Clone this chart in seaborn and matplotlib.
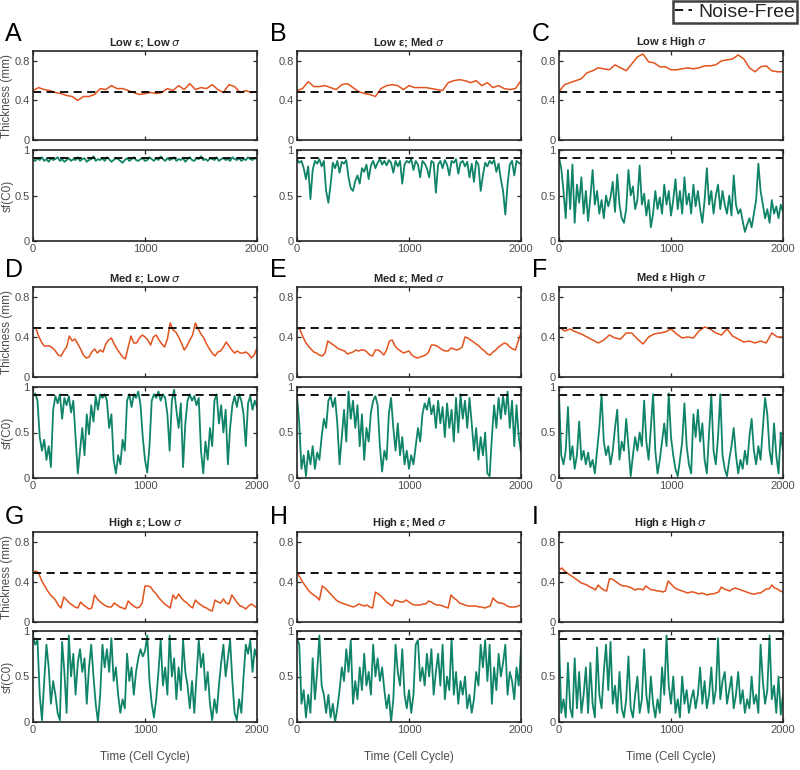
import numpy as np
import pandas as pd
import matplotlib
matplotlib.use("Agg")
import matplotlib.pyplot as plt
from matplotlib.lines import Line2D
import seaborn as sns

# ---------------- data ----------------
panel_letters = ["A", "B", "C", "D", "E", "F", "G", "H", "I"]
panel_titles = [r"Low ε; Low $\sigma$", r"Low ε; Med $\sigma$", r"Low ε High $\sigma$",
                r"Med ε; Low $\sigma$", r"Med ε; Med $\sigma$", r"Med ε High $\sigma$",
                r"High ε; Low $\sigma$", r"High ε; Med $\sigma$", r"High ε High $\sigma$"]
t_max = 2000
noise_free_thickness = 0.49
noise_free_sf = 0.915
thick_yticks = [0, 0.4, 0.8]
sf_yticks = [0, 0.5, 1]
sf_yticklabels = ["0", "0.5", "1"]
x_ticks = [0, 1000, 2000]

thick_A = [0.50, 0.53, 0.51, 0.50, 0.48, 0.47, 0.45, 0.44, 0.40, 0.44, 0.44, 0.46, 0.52, 0.51,
           0.55, 0.52, 0.52, 0.50, 0.48, 0.46, 0.47, 0.48, 0.47, 0.48, 0.52, 0.50, 0.55, 0.51,
           0.57, 0.51, 0.53, 0.52, 0.56, 0.51, 0.48, 0.56, 0.54, 0.48, 0.50, 0.48, 0.49]
thick_B = [0.50, 0.52, 0.59, 0.54, 0.54, 0.55, 0.53, 0.51, 0.56, 0.57, 0.53, 0.49, 0.47, 0.46,
           0.44, 0.52, 0.55, 0.56, 0.55, 0.51, 0.55, 0.53, 0.53, 0.53, 0.52, 0.51, 0.50, 0.58,
           0.60, 0.61, 0.60, 0.58, 0.60, 0.55, 0.58, 0.53, 0.55, 0.52, 0.51, 0.52, 0.60]
thick_C = [0.49, 0.56, 0.58, 0.60, 0.62, 0.68, 0.70, 0.73, 0.72, 0.71, 0.76, 0.73, 0.70, 0.77,
           0.84, 0.87, 0.79, 0.78, 0.74, 0.74, 0.71, 0.71, 0.72, 0.73, 0.72, 0.73, 0.75, 0.75,
           0.76, 0.80, 0.81, 0.82, 0.86, 0.82, 0.73, 0.69, 0.74, 0.75, 0.70, 0.69, 0.69]
thick_D = [0.49, 0.49, 0.41, 0.35, 0.31, 0.31, 0.31, 0.29, 0.26, 0.22, 0.21, 0.26, 0.30, 0.41,
           0.36, 0.38, 0.33, 0.28, 0.22, 0.19, 0.20, 0.25, 0.28, 0.24, 0.27, 0.25, 0.33, 0.37,
           0.39, 0.33, 0.28, 0.24, 0.20, 0.18, 0.30, 0.41, 0.34, 0.34, 0.39, 0.42, 0.40, 0.37,
           0.32, 0.40, 0.42, 0.37, 0.33, 0.30, 0.38, 0.54, 0.47, 0.45, 0.40, 0.34, 0.27, 0.31,
           0.37, 0.42, 0.54, 0.48, 0.43, 0.39, 0.33, 0.28, 0.24, 0.21, 0.25, 0.26, 0.30, 0.35,
           0.31, 0.27, 0.24, 0.26, 0.24, 0.24, 0.25, 0.23, 0.19, 0.22, 0.29]
thick_E = [0.49, 0.48, 0.41, 0.35, 0.31, 0.28, 0.25, 0.24, 0.22, 0.21, 0.24, 0.36, 0.34, 0.32,
           0.30, 0.28, 0.27, 0.26, 0.23, 0.24, 0.25, 0.27, 0.26, 0.27, 0.27, 0.25, 0.22, 0.21,
           0.27, 0.27, 0.25, 0.22, 0.27, 0.36, 0.37, 0.31, 0.28, 0.26, 0.24, 0.25, 0.26, 0.22,
           0.20, 0.19, 0.20, 0.21, 0.22, 0.25, 0.32, 0.32, 0.31, 0.29, 0.27, 0.26, 0.26, 0.29,
           0.28, 0.27, 0.28, 0.30, 0.40, 0.39, 0.37, 0.35, 0.33, 0.31, 0.28, 0.26, 0.23, 0.22,
           0.25, 0.27, 0.30, 0.32, 0.34, 0.33, 0.30, 0.28, 0.27, 0.36, 0.44]
thick_F = [0.50, 0.46, 0.48, 0.45, 0.43, 0.40, 0.37, 0.34, 0.37, 0.42, 0.39, 0.38, 0.44, 0.44,
           0.38, 0.33, 0.40, 0.43, 0.44, 0.45, 0.48, 0.43, 0.39, 0.40, 0.39, 0.46, 0.50, 0.48,
           0.44, 0.42, 0.48, 0.41, 0.38, 0.35, 0.36, 0.34, 0.36, 0.34, 0.44, 0.40, 0.40]
thick_G = [0.49, 0.51, 0.49, 0.42, 0.37, 0.32, 0.28, 0.25, 0.22, 0.17, 0.14, 0.25, 0.22, 0.19,
           0.17, 0.15, 0.14, 0.20, 0.17, 0.15, 0.13, 0.14, 0.27, 0.23, 0.20, 0.18, 0.16, 0.15,
           0.15, 0.19, 0.17, 0.15, 0.14, 0.13, 0.21, 0.18, 0.16, 0.14, 0.15, 0.19, 0.36, 0.36,
           0.35, 0.31, 0.28, 0.24, 0.21, 0.18, 0.16, 0.14, 0.27, 0.23, 0.28, 0.24, 0.21, 0.19,
           0.16, 0.14, 0.22, 0.19, 0.17, 0.15, 0.14, 0.12, 0.11, 0.22, 0.20, 0.19, 0.23, 0.19,
           0.18, 0.27, 0.23, 0.19, 0.16, 0.15, 0.13, 0.16, 0.18, 0.16, 0.14]
thick_H = [0.49, 0.45, 0.40, 0.36, 0.32, 0.29, 0.27, 0.25, 0.22, 0.36, 0.34, 0.31, 0.28, 0.25,
           0.22, 0.20, 0.19, 0.18, 0.17, 0.16, 0.15, 0.16, 0.18, 0.17, 0.16, 0.17, 0.15, 0.14,
           0.30, 0.28, 0.26, 0.23, 0.20, 0.18, 0.16, 0.22, 0.21, 0.20, 0.20, 0.22, 0.20, 0.18,
           0.17, 0.17, 0.17, 0.18, 0.18, 0.21, 0.20, 0.18, 0.17, 0.17, 0.16, 0.15, 0.14, 0.27,
           0.24, 0.22, 0.19, 0.18, 0.17, 0.16, 0.16, 0.16, 0.16, 0.15, 0.15, 0.14, 0.15, 0.16,
           0.24, 0.21, 0.19, 0.19, 0.18, 0.16, 0.15, 0.15, 0.15, 0.16, 0.17]
thick_I = [0.52, 0.54, 0.51, 0.49, 0.47, 0.45, 0.43, 0.41, 0.39, 0.38, 0.37, 0.35, 0.34, 0.32,
           0.37, 0.34, 0.32, 0.31, 0.43, 0.43, 0.41, 0.39, 0.37, 0.36, 0.36, 0.35, 0.34, 0.32,
           0.33, 0.33, 0.32, 0.36, 0.34, 0.32, 0.32, 0.31, 0.31, 0.30, 0.31, 0.41, 0.38, 0.35,
           0.33, 0.32, 0.31, 0.30, 0.29, 0.30, 0.30, 0.29, 0.28, 0.29, 0.28, 0.27, 0.28, 0.28,
           0.29, 0.30, 0.35, 0.33, 0.32, 0.31, 0.33, 0.34, 0.33, 0.32, 0.31, 0.30, 0.29, 0.28,
           0.28, 0.29, 0.29, 0.31, 0.33, 0.33, 0.37, 0.34, 0.33, 0.31, 0.30]

sf_A = [0.90, 0.88, 0.91, 0.89, 0.92, 0.88, 0.90, 0.87, 0.91, 0.89, 0.90, 0.92, 0.88, 0.90,
        0.87, 0.89, 0.91, 0.88, 0.90, 0.89, 0.92, 0.88, 0.90, 0.91, 0.87, 0.89, 0.90, 0.93,
        0.88, 0.90, 0.89, 0.91, 0.88, 0.92, 0.90, 0.87, 0.89, 0.91, 0.90, 0.88, 0.86, 0.89,
        0.91, 0.88, 0.90, 0.92, 0.89, 0.88, 0.90, 0.91, 0.88, 0.89, 0.92, 0.90, 0.88, 0.91,
        0.89, 0.93, 0.90, 0.88, 0.91, 0.89, 0.90, 0.92, 0.88, 0.90, 0.89, 0.91, 0.87, 0.90,
        0.92, 0.89, 0.88, 0.91, 0.90, 0.93, 0.89, 0.90, 0.88, 0.91, 0.90, 0.89, 0.92, 0.88,
        0.90, 0.91, 0.89, 0.90, 0.88, 0.92, 0.90, 0.89, 0.91, 0.88, 0.90, 0.89, 0.92, 0.90,
        0.89, 0.91, 0.90]
sf_B = [0.90, 0.86, 0.88, 0.80, 0.68, 0.82, 0.46, 0.78, 0.88, 0.85, 0.90, 0.82, 0.88, 0.55,
        0.42, 0.62, 0.86, 0.80, 0.88, 0.75, 0.87, 0.85, 0.89, 0.70, 0.58, 0.55, 0.66, 0.72,
        0.63, 0.80, 0.76, 0.84, 0.68, 0.83, 0.88, 0.80, 0.86, 0.90, 0.84, 0.88, 0.83, 0.89,
        0.86, 0.75, 0.88, 0.82, 0.88, 0.63, 0.84, 0.88, 0.86, 0.90, 0.78, 0.88, 0.84, 0.70,
        0.88, 0.85, 0.80, 0.70, 0.88, 0.86, 0.53, 0.84, 0.88, 0.80, 0.89, 0.84, 0.72, 0.88,
        0.86, 0.90, 0.74, 0.86, 0.88, 0.82, 0.87, 0.70, 0.85, 0.65, 0.88, 0.84, 0.55, 0.72,
        0.86, 0.82, 0.88, 0.85, 0.89, 0.76, 0.85, 0.68, 0.55, 0.29, 0.62, 0.84, 0.88, 0.72,
        0.88, 0.86, 0.84]
sf_C = [0.92, 0.80, 0.55, 0.25, 0.78, 0.35, 0.84, 0.20, 0.62, 0.42, 0.70, 0.30, 0.55, 0.22,
        0.48, 0.78, 0.40, 0.55, 0.30, 0.45, 0.25, 0.50, 0.38, 0.48, 0.65, 0.32, 0.73, 0.40,
        0.25, 0.20, 0.35, 0.78, 0.50, 0.60, 0.35, 0.45, 0.83, 0.40, 0.52, 0.28, 0.45, 0.15,
        0.30, 0.55, 0.35, 0.48, 0.30, 0.62, 0.40, 0.55, 0.28, 0.45, 0.68, 0.35, 0.55, 0.30,
        0.70, 0.40, 0.52, 0.30, 0.62, 0.38, 0.55, 0.35, 0.20, 0.45, 0.80, 0.40, 0.55, 0.30,
        0.50, 0.62, 0.35, 0.55, 0.40, 0.30, 0.50, 0.28, 0.72, 0.40, 0.30, 0.35, 0.22, 0.10,
        0.18, 0.25, 0.15, 0.30, 0.45, 0.85, 0.55, 0.40, 0.25, 0.35, 0.20, 0.45, 0.30, 0.38,
        0.25, 0.40, 0.32]
sf_D = [0.90, 0.93, 0.85, 0.45, 0.30, 0.42, 0.20, 0.35, 0.12, 0.75, 0.90, 0.82, 0.92, 0.65,
        0.88, 0.80, 0.90, 0.72, 0.85, 0.45, 0.05, 0.30, 0.55, 0.25, 0.70, 0.48, 0.80, 0.62,
        0.90, 0.75, 0.92, 0.88, 0.92, 0.85, 0.55, 0.70, 0.20, 0.05, 0.25, 0.15, 0.42, 0.30,
        0.85, 0.92, 0.78, 0.92, 0.88, 0.95, 0.80, 0.45, 0.20, 0.06, 0.35, 0.85, 0.92, 0.88,
        0.95, 0.85, 0.92, 0.88, 0.70, 0.30, 0.85, 0.97, 0.75, 0.55, 0.82, 0.12, 0.60, 0.85,
        0.92, 0.85, 0.90, 0.80, 0.88, 0.30, 0.05, 0.40, 0.20, 0.55, 0.35, 0.85, 0.92, 0.60,
        0.80, 0.50, 0.75, 0.15, 0.55, 0.80, 0.90, 0.78, 0.92, 0.85, 0.70, 0.35, 0.82, 0.90,
        0.75, 0.85, 0.78]
sf_E = [0.90, 0.60, 0.10, 0.25, 0.02, 0.30, 0.15, 0.35, 0.10, 0.28, 0.20, 0.45, 0.65, 0.55,
        0.85, 0.90, 0.78, 0.88, 0.60, 0.15, 0.45, 0.75, 0.40, 0.95, 0.65, 0.85, 0.55, 0.80,
        0.35, 0.70, 0.20, 0.55, 0.40, 0.72, 0.85, 0.90, 0.80, 0.35, 0.07, 0.30, 0.20, 0.70,
        0.88, 0.55, 0.30, 0.60, 0.25, 0.45, 0.15, 0.30, 0.10, 0.25, 0.15, 0.35, 0.55, 0.40,
        0.70, 0.82, 0.75, 0.88, 0.70, 0.80, 0.55, 0.85, 0.60, 0.78, 0.45, 0.82, 0.55, 0.75,
        0.40, 0.88, 0.50, 0.92, 0.65, 0.85, 0.55, 0.88, 0.60, 0.30, 0.55, 0.20, 0.45, 0.25,
        0.50, 0.05, 0.02, 0.45, 0.80, 0.55, 0.88, 0.65, 0.90, 0.70, 0.95, 0.55, 0.85, 0.35,
        0.80, 0.45, 0.28]
sf_F = [0.92, 0.25, 0.15, 0.30, 0.78, 0.20, 0.35, 0.10, 0.25, 0.62, 0.20, 0.30, 0.15, 0.28,
        0.12, 0.20, 0.05, 0.30, 0.55, 0.92, 0.40, 0.25, 0.35, 0.15, 0.30, 0.55, 0.75, 0.20,
        0.40, 0.30, 0.65, 0.35, 0.02, 0.25, 0.45, 0.30, 0.50, 0.35, 0.85, 0.40, 0.20, 0.55,
        0.92, 0.30, 0.05, 0.20, 0.40, 0.60, 0.35, 0.93, 0.45, 0.25, 0.10, 0.02, 0.20, 0.40,
        0.82, 0.35, 0.15, 0.05, 0.70, 0.45, 0.75, 0.40, 0.60, 0.20, 0.05, 0.50, 0.92, 0.30,
        0.15, 0.45, 0.92, 0.25, 0.10, 0.02, 0.20, 0.35, 0.55, 0.25, 0.05, 0.20, 0.10, 0.30,
        0.15, 0.45, 0.65, 0.30, 0.15, 0.35, 0.20, 0.55, 0.88, 0.70, 0.30, 0.15, 0.60, 0.25,
        0.05, 0.50, 0.30]
sf_G = [0.95, 0.85, 0.90, 0.30, 0.02, 0.45, 0.85, 0.60, 0.20, 0.45, 0.30, 0.10, 0.02, 0.88,
        0.55, 0.10, 0.95, 0.50, 0.75, 0.30, 0.65, 0.80, 0.55, 0.70, 0.20, 0.60, 0.85, 0.50,
        0.20, 0.00, 0.30, 0.85, 0.60, 0.80, 0.55, 0.92, 0.45, 0.60, 0.30, 0.10, 0.25, 0.15,
        0.75, 0.45, 0.60, 0.30, 0.55, 0.70, 0.80, 0.72, 0.78, 0.95, 0.45, 0.20, 0.05, 0.25,
        0.55, 0.90, 0.40, 0.60, 0.30, 0.95, 0.50, 0.70, 0.25, 0.60, 0.35, 0.90, 0.55, 0.40,
        0.15, 0.45, 0.10, 0.50, 0.90, 0.60, 0.75, 0.35, 0.55, 0.20, 0.02, 0.25, 0.10, 0.40,
        0.65, 0.85, 0.50, 0.70, 0.90, 0.45, 0.10, 0.02, 0.25, 0.10, 0.50, 0.85, 0.75, 0.90,
        0.55, 0.80, 0.70]
sf_H = [0.92, 0.85, 0.20, 0.35, 0.05, 0.30, 0.10, 0.70, 0.25, 0.55, 0.95, 0.40, 0.30, 0.10,
        0.30, 0.05, 0.20, 0.00, 0.15, 0.35, 0.60, 0.45, 0.80, 0.55, 0.90, 0.20, 0.45, 0.25,
        0.60, 0.35, 0.75, 0.40, 0.55, 0.30, 0.85, 0.50, 0.70, 0.45, 0.60, 0.35, 0.15, 0.30,
        0.00, 0.25, 0.85, 0.55, 0.40, 0.80, 0.30, 0.15, 0.35, 0.10, 0.30, 0.85, 0.90, 0.45,
        0.60, 0.40, 0.75, 0.50, 0.80, 0.30, 0.55, 0.75, 0.40, 0.85, 0.25, 0.50, 0.35, 0.92,
        0.30, 0.55, 0.20, 0.45, 0.30, 0.50, 0.15, 0.30, 0.10, 0.25, 0.55, 0.40, 0.85, 0.60,
        0.90, 0.45, 0.85, 0.20, 0.60, 0.35, 0.75, 0.50, 0.65, 0.85, 0.30, 0.55, 0.45, 0.25,
        0.60, 0.40, 0.80]
sf_I = [0.92, 0.10, 0.25, 0.05, 0.65, 0.15, 0.05, 0.70, 0.15, 0.55, 0.10, 0.30, 0.60, 0.10,
        0.65, 0.20, 0.05, 0.82, 0.30, 0.15, 0.55, 0.85, 0.35, 0.88, 0.20, 0.40, 0.10, 0.55,
        0.15, 0.05, 0.25, 0.72, 0.15, 0.05, 0.30, 0.50, 0.10, 0.25, 0.80, 0.30, 0.10, 0.50,
        0.20, 0.05, 0.25, 0.10, 0.60, 0.30, 0.95, 0.40, 0.20, 0.50, 0.10, 0.25, 0.05, 0.50,
        0.20, 0.35, 0.10, 0.25, 0.35, 0.15, 0.30, 0.60, 0.20, 0.45, 0.15, 0.30, 0.60, 0.20,
        0.35, 0.92, 0.25, 0.45, 0.55, 0.20, 0.35, 0.50, 0.15, 0.30, 0.55, 0.20, 0.35, 0.10,
        0.25, 0.15, 0.50, 0.20, 0.30, 0.10, 0.85, 0.45, 0.20, 0.35, 0.95, 0.25, 0.40, 0.10,
        0.50, 0.08, 0.30]

thickness_series = [thick_A, thick_B, thick_C, thick_D, thick_E, thick_F, thick_G, thick_H, thick_I]
sf_series = [sf_A, sf_B, sf_C, sf_D, sf_E, sf_F, sf_G, sf_H, sf_I]

# ---------------- style ----------------
sns.set_theme(style="ticks")
plt.rcParams["font.family"] = ["Liberation Sans", "DejaVu Sans"]
plt.rcParams["mathtext.fontset"] = "dejavusans"

ORANGE = "#E2531D"
GREEN = "#108468"
SPINE = "#262626"
TICKC = "#4D4D4D"

W, H = 800, 770
fig = plt.figure(figsize=(W / 100, H / 100), dpi=100)

col_left = [33, 297, 559]
col_width = 224
rows_px = [((51, 140), (150, 241)), ((287, 377), (387, 478)), ((532, 622), (631, 722))]
letter_x = [5, 270, 532]
letter_y = [34, 270, 517]


def px_axes(left, top, width, bottom):
    return fig.add_axes([left / W, 1 - bottom / H, width / W, (bottom - top) / H])


def style_axes(ax):
    for s in ax.spines.values():
        s.set_color(SPINE)
        s.set_linewidth(1.2)
    ax.tick_params(direction="in", length=3, width=0.9, colors=SPINE,
                   labelcolor=TICKC, labelsize=8, top=True, right=True, pad=2.5)


for idx in range(9):
    r, c = divmod(idx, 3)
    (t_top, t_bot), (s_top, s_bot) = rows_px[r]
    yth = np.asarray(thickness_series[idx])
    ysf = np.asarray(sf_series[idx])
    df_th = pd.DataFrame({"t": np.linspace(0, t_max, len(yth)), "v": yth})
    df_sf = pd.DataFrame({"t": np.linspace(0, t_max, len(ysf)), "v": ysf})

    ax1 = px_axes(col_left[c], t_top, col_width, t_bot)
    sns.lineplot(data=df_th, x="t", y="v", ax=ax1, color=ORANGE, linewidth=1.1,
                 estimator=None, sort=False)
    ax1.axhline(noise_free_thickness, color="black", linestyle=(0, (4.5, 3)), linewidth=1.3)
    ax1.set_xlim(0, t_max)
    ax1.set_ylim(0, 0.9)
    ax1.set_yticks(thick_yticks)
    ax1.set_yticklabels(["0", "0.4", "0.8"])
    ax1.set_xticks(x_ticks)
    ax1.set_xticklabels([])
    ax1.set_xlabel("")
    ax1.set_ylabel("")
    style_axes(ax1)
    ax1.set_title(panel_titles[idx], fontsize=8, fontweight="bold", pad=4)

    ax2 = px_axes(col_left[c], s_top, col_width, s_bot)
    sns.lineplot(data=df_sf, x="t", y="v", ax=ax2, color=GREEN, linewidth=1.3,
                 estimator=None, sort=False)
    ax2.axhline(noise_free_sf, color="black", linestyle=(0, (4.5, 3)), linewidth=1.3)
    ax2.set_xlim(0, t_max)
    ax2.set_ylim(0, 1)
    ax2.set_yticks(sf_yticks)
    ax2.set_yticklabels(sf_yticklabels)
    ax2.set_xticks(x_ticks)
    ax2.set_xticklabels([str(v) for v in x_ticks])
    ax2.set_xlabel("")
    ax2.set_ylabel("")
    style_axes(ax2)

    if c == 0:
        ax1.set_ylabel("Thickness (mm)", fontsize=8.5, color=TICKC)
        ax1.yaxis.set_label_coords(-0.088, 0.5)
        ax2.set_ylabel("sf(C0)", fontsize=8.5, color=TICKC)
        ax2.yaxis.set_label_coords(-0.088, 0.5)

    fig.text(letter_x[c] / W, 1 - letter_y[r] / H, panel_letters[idx],
             fontsize=18, ha="left", va="center", color="black")

    if r == 2:
        fig.text((col_left[c] + col_width / 2) / W, 1 - 757 / H, "Time (Cell Cycle)",
                 fontsize=8.5, ha="center", va="center", color=TICKC)

handle = Line2D([], [], color="black", linestyle=(0, (4.5, 3)), linewidth=1.3)
leg = fig.legend([handle], ["Noise-Free"], loc="upper right",
                 bbox_to_anchor=(797 / W, 1 - 1 / H), fontsize=14,
                 handlelength=0.9, handletextpad=0.3, borderpad=0.1,
                 borderaxespad=0, fancybox=False, framealpha=1)
leg.get_frame().set_edgecolor("#404040")
leg.get_frame().set_linewidth(1.8)

fig.savefig("out.png", dpi=100)
